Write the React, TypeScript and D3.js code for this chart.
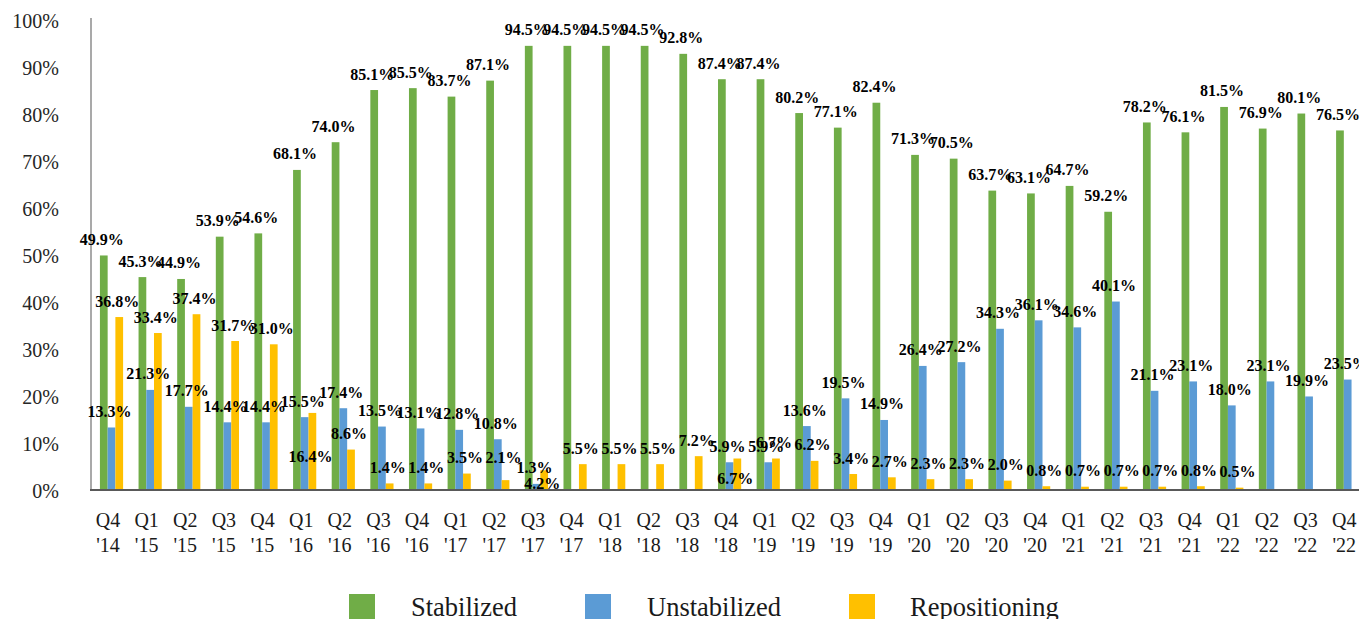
import React from "react";
import * as d3 from "d3";

const categories = [
  ["Q4", "'14"], ["Q1", "'15"], ["Q2", "'15"], ["Q3", "'15"], ["Q4", "'15"],
  ["Q1", "'16"], ["Q2", "'16"], ["Q3", "'16"], ["Q4", "'16"],
  ["Q1", "'17"], ["Q2", "'17"], ["Q3", "'17"], ["Q4", "'17"],
  ["Q1", "'18"], ["Q2", "'18"], ["Q3", "'18"], ["Q4", "'18"],
  ["Q1", "'19"], ["Q2", "'19"], ["Q3", "'19"], ["Q4", "'19"],
  ["Q1", "'20"], ["Q2", "'20"], ["Q3", "'20"], ["Q4", "'20"],
  ["Q1", "'21"], ["Q2", "'21"], ["Q3", "'21"], ["Q4", "'21"],
  ["Q1", "'22"], ["Q2", "'22"], ["Q3", "'22"], ["Q4", "'22"],
];

const stabilized = [
  49.9, 45.3, 44.9, 53.9, 54.6, 68.1, 74.0, 85.1, 85.5, 83.7, 87.1, 94.5, 94.5,
  94.5, 94.5, 92.8, 87.4, 87.4, 80.2, 77.1, 82.4, 71.3, 70.5, 63.7, 63.1, 64.7,
  59.2, 78.2, 76.1, 81.5, 76.9, 80.1, 76.5,
];
const unstabilized: (number | null)[] = [
  13.3, 21.3, 17.7, 14.4, 14.4, 15.5, 17.4, 13.5, 13.1, 12.8, 10.8, 1.3, null,
  null, null, null, 5.9, 5.9, 13.6, 19.5, 14.9, 26.4, 27.2, 34.3, 36.1, 34.6,
  40.1, 21.1, 23.1, 18.0, 23.1, 19.9, 23.5,
];
const repositioning: (number | null)[] = [
  36.8, 33.4, 37.4, 31.7, 31.0, 16.4, 8.6, 1.4, 1.4, 3.5, 2.1, 4.2, 5.5, 5.5,
  5.5, 7.2, 6.7, 6.7, 6.2, 3.4, 2.7, 2.3, 2.3, 2.0, 0.8, 0.7, 0.7, 0.7, 0.8,
  0.5, null, null, null,
];

const seriesNames = ["Stabilized", "Unstabilized", "Repositioning"];
const seriesColors = ["#70AD47", "#5B9BD5", "#FFC000"];
const yTicks = [0, 10, 20, 30, 40, 50, 60, 70, 80, 90, 100];

// manual label nudges (series index, category index, dy)
const labelNudges: [number, number, number][] = [
  [2, 5, 60],
  [2, 10, -7],
  [2, 11, 29],
  [2, 16, 36],
];

const FONT = "Liberation Serif, Tinos, Times New Roman, DejaVu Serif, serif";

export default function App() {
  const W = 1359;
  const H = 619;
  const plotLeft = 92.2;
  const plotRight = 1367;
  const yTop = 20;
  const yBottom = 490;

  const labels = categories.map((c) => c.join(" "));
  const x = d3.scaleBand<string>().domain(labels).range([plotLeft, plotRight]).paddingInner(0).paddingOuter(0);
  const xs = d3.scaleBand<string>().domain(seriesNames).range([0, x.bandwidth()]).paddingInner(0).paddingOuter(1);
  const y = d3.scaleLinear().domain([0, 100]).range([yBottom, yTop]);

  const data = [stabilized, unstabilized, repositioning];
  const nudge = (s: number, i: number) => {
    const n = labelNudges.find((d) => d[0] === s && d[1] === i);
    return n ? n[2] : 0;
  };

  const legendX = [349, 585, 849];
  const legendTextX = [411, 647, 910];

  return (
    <svg width={W} height={H} style={{ position: "absolute", left: 0, top: 0, display: "block", background: "#fff", fontFamily: FONT }}>
      {/* bars */}
      {data.map((vals, s) =>
        vals.map((v, i) =>
          v == null ? null : (
            <rect
              key={`b${s}-${i}`}
              x={(x(labels[i]) as number) + (xs(seriesNames[s]) as number)}
              y={y(v)}
              width={xs.bandwidth()}
              height={yBottom - y(v)}
              fill={seriesColors[s]}
            />
          )
        )
      )}
      {/* axes */}
      <line x1={91} x2={91} y1={18} y2={yBottom} stroke="#8c8c8c" strokeWidth={1.5} />
      <line x1={90} x2={W} y1={yBottom} y2={yBottom} stroke="#595959" strokeWidth={2} />
      {yTicks.map((t) => (
        <text key={`yt${t}`} x={59} y={y(t) + 7.5} textAnchor="end" style={{ fontFamily: FONT }} fontSize={20} fill="#262626">
          {t}%
        </text>
      ))}
      {categories.map((c, i) => {
        const cx = (x(labels[i]) as number) + x.bandwidth() / 2 - 3.5;
        return (
          <text key={`xl${i}`} x={cx} textAnchor="middle" style={{ fontFamily: FONT }} fontSize={20} fill="#1a1a1a">
            <tspan x={cx} y={527}>{c[0]}</tspan>
            <tspan x={cx} y={552}>{c[1]}</tspan>
          </text>
        );
      })}
      {/* data labels */}
      {data.map((vals, s) =>
        vals.map((v, i) =>
          v == null ? null : (
            <text
              key={`l${s}-${i}`}
              x={(x(labels[i]) as number) + (xs(seriesNames[s]) as number) + xs.bandwidth() / 2 - 2}
              y={y(v) - 10.5 + nudge(s, i)}
              textAnchor="middle"
              style={{ fontFamily: FONT }}
              fontSize={16}
              fontWeight="bold"
              fill="#000"
            >
              {v.toFixed(1)}%
            </text>
          )
        )
      )}
      {/* legend */}
      {seriesNames.map((n, s) => (
        <g key={`lg${s}`}>
          <rect x={legendX[s]} y={594} width={26} height={26} fill={seriesColors[s]} />
          <text x={legendTextX[s]} y={616} style={{ fontFamily: FONT }} fontSize={26.5} fill="#1a1a1a">
            {n}
          </text>
        </g>
      ))}
    </svg>
  );
}
